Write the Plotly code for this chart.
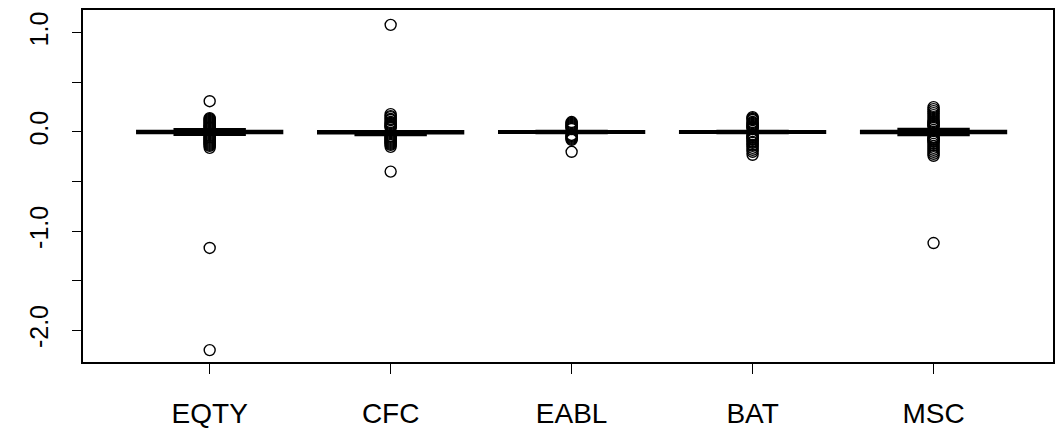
import plotly.graph_objects as go

categories = ["EQTY", "CFC", "EABL", "BAT", "MSC"]
q1 = [-0.010, -0.014, -0.008, -0.008, -0.010]
medians = [0.000, -0.003, 0.000, 0.000, 0.000]
q3 = [0.010, 0.006, 0.008, 0.008, 0.010]
lower_whisker = [-0.028, -0.030, -0.010, -0.010, -0.030]
upper_whisker = [0.028, 0.008, 0.010, 0.010, 0.030]

outliers_eqty = [0.31, 0.14, 0.13, 0.12, 0.11, 0.10, 0.09, 0.08, 0.07, 0.06, 0.05, 0.045, 0.04,
                 -0.04, -0.05, -0.06, -0.07, -0.08, -0.09, -0.10, -0.11, -0.12, -0.13, -0.14,
                 -0.16, -1.17, -2.20]
outliers_cfc = [1.08, 0.18, 0.16, 0.15, 0.13, 0.12, 0.10, 0.09, 0.08, 0.07, 0.06, 0.05, 0.04,
                -0.04, -0.05, -0.06, -0.07, -0.08, -0.09, -0.10, -0.11, -0.12, -0.13, -0.15, -0.40]
outliers_eabl = [0.10, 0.09, 0.08, 0.07, 0.06, 0.05, 0.04, 0.03, -0.03, -0.04, -0.05,
                 -0.06, -0.07, -0.08, -0.20]
outliers_bat = [0.15, 0.14, 0.13, 0.12, 0.10, 0.09, 0.08, 0.07, 0.06, 0.05, 0.04, 0.03,
                -0.03, -0.04, -0.05, -0.06, -0.07, -0.08, -0.10, -0.11, -0.13, -0.14, -0.16,
                -0.18, -0.20, -0.23]
outliers_msc = [0.25, 0.23, 0.21, 0.19, 0.17, 0.15, 0.13, 0.11, 0.10, 0.09, 0.08, 0.07,
                0.06, 0.05, -0.05, -0.06, -0.07, -0.08, -0.09, -0.10, -0.12, -0.14, -0.16,
                -0.18, -0.20, -0.22, -0.24, -1.12]
outliers = [outliers_eqty, outliers_cfc, outliers_eabl, outliers_bat, outliers_msc]

y_tick_vals = [-2.0, -1.5, -1.0, -0.5, 0.0, 0.5, 1.0]
y_tick_text = ["-2.0", "", "-1.0", "", "0.0", "", "1.0"]

fig = go.Figure()
positions = list(range(1, len(categories) + 1))
for i, name in enumerate(categories):
    fig.add_trace(go.Box(
        x=[positions[i]], q1=[q1[i]], median=[medians[i]], q3=[q3[i]],
        lowerfence=[lower_whisker[i]], upperfence=[upper_whisker[i]],
        width=0.8, whiskerwidth=0.5, boxpoints=False,
        line=dict(color="black", width=2.5), fillcolor="black",
        name=name, showlegend=False,
    ))
    fig.add_trace(go.Scatter(
        x=[positions[i]] * len(outliers[i]), y=outliers[i], mode="markers",
        marker=dict(symbol="circle-open", size=11, color="black", line=dict(width=1.4, color="black")),
        showlegend=False, hoverinfo="y",
    ))

fig.update_layout(
    width=1058, height=441,
    margin=dict(l=83, r=3, t=10, b=79),
    paper_bgcolor="white", plot_bgcolor="white",
    font=dict(family="Arial, Liberation Sans, sans-serif", color="black"),
    xaxis=dict(
        range=[0.3, 5.66], tickvals=positions, ticktext=categories,
        showline=True, mirror=True, linecolor="black", linewidth=1.5,
        ticks="outside", ticklen=10, tickwidth=1.3, tickcolor="black",
        showgrid=False, zeroline=False, tickfont=dict(size=28),
        ticklabelstandoff=16,
    ),
    yaxis=dict(
        range=[-2.32, 1.23], tickvals=y_tick_vals, ticktext=y_tick_text,
        showline=True, mirror=True, linecolor="black", linewidth=1.5,
        ticks="outside", ticklen=9, tickwidth=1.3, tickcolor="black",
        showgrid=False, zeroline=False, tickfont=dict(size=25),
        tickangle=-90, ticklabelstandoff=14,
    ),
)

fig.write_html("out.html")
